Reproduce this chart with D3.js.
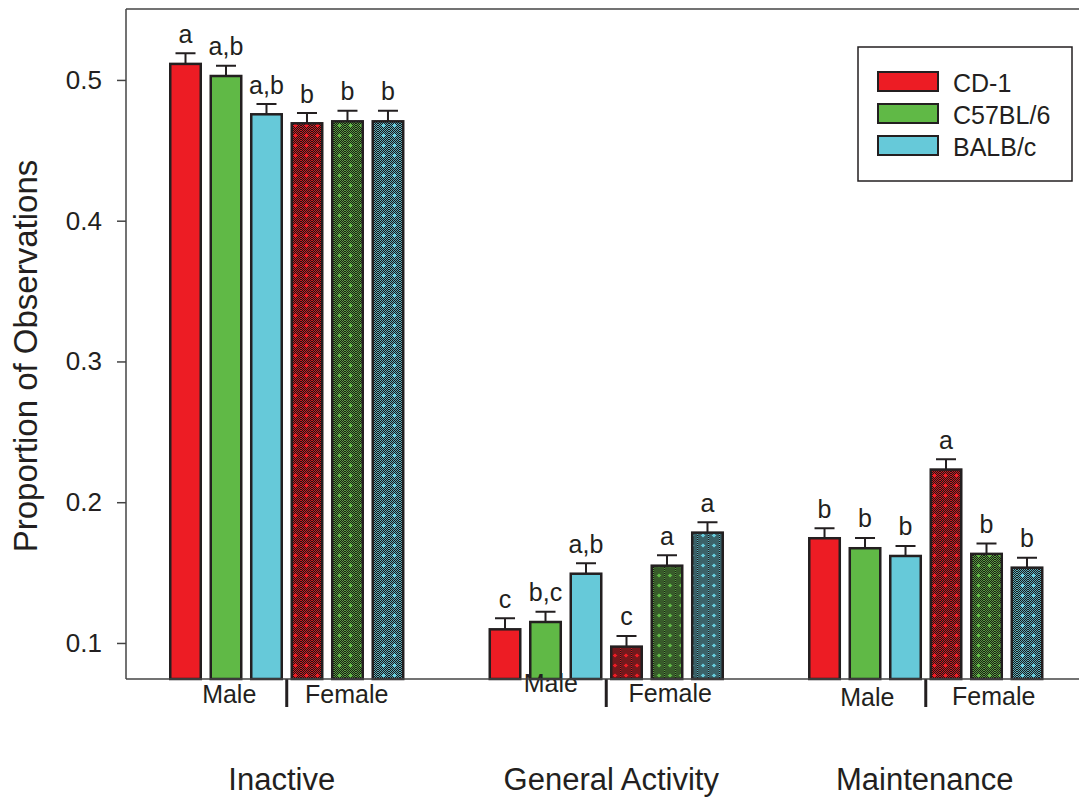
<!DOCTYPE html>
<html>
<head>
<meta charset="utf-8">
<script src="https://cdn.jsdelivr.net/npm/d3@7"></script>
<style>
  html, body { margin: 0; padding: 0; background: #fff; }
  svg { display: block; font-family: "Liberation Sans", Arial, Helvetica, sans-serif; }
</style>
</head>
<body>
<svg id="chart" width="1079" height="800"></svg>
<script>
'use strict';

// Chart values.
var groups = ['Inactive', 'General Activity', 'Maintenance'];
var strains = ['CD-1', 'C57BL/6', 'BALB/c'];
var sexes = ['Male', 'Female'];
var yTicks = [0.1, 0.2, 0.3, 0.4, 0.5];

// Bar order in each group: male CD-1, C57BL/6, BALB/c, then female.
var inactiveMeans = [0.5114, 0.5028, 0.4756, 0.4692, 0.4706, 0.4706];
var activityMeans = [0.1097, 0.1149, 0.1492, 0.0974, 0.1549, 0.1784];
var maintenanceMeans = [0.1744, 0.1673, 0.1618, 0.2232, 0.1633, 0.1535];

var inactiveErrors = [0.0076, 0.0073, 0.0073, 0.0073, 0.0075, 0.0075];
var activityErrors = [0.0078, 0.0073, 0.0074, 0.0076, 0.0074, 0.0074];
var maintenanceErrors = [0.0071, 0.0073, 0.0071, 0.0073, 0.0074, 0.0071];

var inactiveLetters = ['a', 'a,b', 'a,b', 'b', 'b', 'b'];
var activityLetters = ['c', 'b,c', 'a,b', 'c', 'a', 'a'];
var maintenanceLetters = ['b', 'b', 'b', 'a', 'b', 'b'];

var strainColors = ['#ed1c24', '#60b946', '#66c9d9'];

(function() {
  var svg = d3.select('#chart'),
      ink = '#231f20',
      axisInk = '#444',
      plot = { left: 126, top: 9, right: 1079, bottom: 679 },
      defs,
      x0,
      x1,
      y,
      yAxis,
      series,
      gGroups,
      legend;

  series = [
    { means: inactiveMeans, errors: inactiveErrors, letters: inactiveLetters },
    { means: activityMeans, errors: activityErrors, letters: activityLetters },
    { means: maintenanceMeans, errors: maintenanceErrors, letters: maintenanceLetters }
  ];

  // Bar keys: sex x strain, male first.
  var barKeys = [];
  sexes.forEach(function(sex, si) {
    strains.forEach(function(strain, ci) {
      barKeys.push({ sex: si, strain: ci, key: sex + '-' + strain });
    });
  });

  x0 = d3.scaleBand()
    .domain(groups)
    .range([169, 1043.5])
    .paddingInner(0.263)
    .paddingOuter(0);

  x1 = d3.scaleBand()
    .domain(barKeys.map(function(d) { return d.key; }))
    .range([0, x0.bandwidth()])
    .paddingInner(0.185)
    .paddingOuter(0);

  y = d3.scaleLinear()
    .domain([0.0744, 0.5504])
    .range([plot.bottom, plot.top]);

  /**
   * Female bars: dark ground, fine colour checker, and a grid of small plus marks.
   */
  defs = svg.append('defs');
  strainColors.forEach(function(color, i) {
    var p = defs.append('pattern')
      .attr('id', 'female-' + i)
      .attr('patternUnits', 'userSpaceOnUse')
      .attr('width', 11)
      .attr('height', 10);
    p.append('rect')
      .attr('width', 11)
      .attr('height', 10)
      .attr('fill', '#1a1616');
    var cells = [];
    for (var cx = 0; cx < 11; cx++) {
      for (var cy = 0; cy < 10; cy++) {
        if ((cx + cy) % 2 === 0) { cells.push([cx, cy]); }
      }
    }
    p.selectAll('rect.cell')
      .data(cells)
      .enter().append('rect')
      .attr('class', 'cell')
      .attr('x', function(d) { return d[0]; })
      .attr('y', function(d) { return d[1]; })
      .attr('width', 1)
      .attr('height', 1)
      .attr('fill', color)
      .attr('opacity', 0.85);
    p.append('rect').attr('x', 3).attr('y', 5).attr('width', 5).attr('height', 1).attr('fill', color);
    p.append('rect').attr('x', 5).attr('y', 3).attr('width', 1).attr('height', 5).attr('fill', color);
    p.append('rect').attr('x', 4).attr('y', 4).attr('width', 3).attr('height', 3).attr('fill', color);
  });

  // Frame: left axis, top rule and baseline.
  svg.append('line')
    .attr('x1', plot.left).attr('x2', plot.right)
    .attr('y1', plot.top).attr('y2', plot.top)
    .attr('stroke', axisInk).attr('stroke-width', 1.5);

  yAxis = svg.append('g')
    .attr('transform', 'translate(' + plot.left + ',0)')
    .call(d3.axisLeft(y)
      .tickValues(yTicks)
      .tickSize(9)
      .tickPadding(15)
      .tickFormat(d3.format('.1f')));
  yAxis.select('.domain').remove();
  yAxis.selectAll('.tick line').attr('stroke', axisInk).attr('stroke-width', 1.5);
  yAxis.selectAll('.tick text')
    .attr('fill', ink)
    .style('font-size', '26px')
    .style('font-family', '"Liberation Sans", Arial, sans-serif');

  svg.append('line')
    .attr('x1', plot.left).attr('x2', plot.left)
    .attr('y1', plot.top).attr('y2', plot.bottom)
    .attr('stroke', axisInk).attr('stroke-width', 1.5);

  svg.append('text')
    .attr('transform', 'translate(37,356) rotate(-90)')
    .attr('text-anchor', 'middle')
    .attr('fill', ink)
    .style('font-size', '33px')
    .text('Proportion of Observations');

  // Bars, error bars and letters.
  gGroups = svg.selectAll('g.group')
    .data(groups)
    .enter().append('g')
    .attr('class', 'group')
    .attr('transform', function(g) { return 'translate(' + x0(g) + ',0)'; });

  gGroups.each(function(g, gi) {
    var sel = d3.select(this),
        s = series[gi],
        bw = x1.bandwidth(),
        sw = 2.5,
        bars = barKeys.map(function(k, i) {
          return {
            key: k.key,
            sex: k.sex,
            strain: k.strain,
            mean: s.means[i],
            err: s.errors[i],
            letter: s.letters[i]
          };
        });

    // Error bars first, so the bar outline sits over their foot.
    sel.selectAll('path.err')
      .data(bars)
      .enter().append('path')
      .attr('class', 'err')
      .attr('d', function(d) {
        var cx = x1(d.key) + bw / 2,
            top = y(d.mean + d.err);
        return 'M' + cx + ',' + y(d.mean) + 'V' + top +
          'M' + (cx - 10) + ',' + top + 'H' + (cx + 10);
      })
      .attr('fill', 'none')
      .attr('stroke', ink)
      .attr('stroke-width', 2);

    sel.selectAll('rect.bar')
      .data(bars)
      .enter().append('rect')
      .attr('class', 'bar')
      .attr('x', function(d) { return x1(d.key) + sw / 2; })
      .attr('width', bw - sw)
      .attr('y', function(d) { return y(d.mean); })
      .attr('height', function(d) { return plot.bottom - y(d.mean); })
      .attr('fill', function(d) {
        return d.sex === 0 ? strainColors[d.strain] : 'url(#female-' + d.strain + ')';
      })
      .attr('stroke', ink)
      .attr('stroke-width', sw);

    sel.selectAll('text.letter')
      .data(bars)
      .enter().append('text')
      .attr('class', 'letter')
      .attr('x', function(d) { return x1(d.key) + bw / 2; })
      .attr('y', function(d) { return y(d.mean + d.err) - 10.5; })
      .attr('text-anchor', 'middle')
      .attr('fill', ink)
      .style('font-size', '25px')
      .text(function(d) { return d.letter; });
  });

  // Baseline over the bar feet.
  svg.append('line')
    .attr('x1', plot.left).attr('x2', plot.right)
    .attr('y1', plot.bottom).attr('y2', plot.bottom)
    .attr('stroke', axisInk).attr('stroke-width', 1.5);

  // Sex labels, split mark and group names under the axis.
  var sexOffsets = [[-57.5, 60], [-55.5, 64], [-58.5, 68]],
      sexBaselines = [[703, 703], [692, 702], [706, 705]];

  gGroups.each(function(g, gi) {
    var sel = d3.select(this),
        mid = x0.bandwidth() / 2;

    sel.append('line')
      .attr('x1', mid).attr('x2', mid)
      .attr('y1', plot.bottom).attr('y2', 707)
      .attr('stroke', ink)
      .attr('stroke-width', 3);

    sel.selectAll('text.sex')
      .data(sexes)
      .enter().append('text')
      .attr('class', 'sex')
      .attr('x', function(d, i) { return mid + sexOffsets[gi][i]; })
      .attr('y', function(d, i) { return sexBaselines[gi][i]; })
      .attr('text-anchor', 'middle')
      .attr('fill', ink)
      .style('font-size', '25px')
      .text(function(d) { return d; });

    sel.append('text')
      .attr('x', mid + [-5, 5, -1][gi])
      .attr('y', 790)
      .attr('text-anchor', 'middle')
      .attr('fill', ink)
      .style('font-size', '31px')
      .text(g);
  });

  // Legend
  legend = svg.append('g').attr('transform', 'translate(858,47)');
  legend.append('rect')
    .attr('width', 214)
    .attr('height', 134)
    .attr('fill', '#fff')
    .attr('stroke', ink)
    .attr('stroke-width', 1.5);

  var items = legend.selectAll('g.item')
    .data(strains)
    .enter().append('g')
    .attr('class', 'item')
    .attr('transform', function(d, i) { return 'translate(0,' + (25 + i * 32) + ')'; });
  items.append('rect')
    .attr('x', 20)
    .attr('width', 60)
    .attr('height', 19)
    .attr('fill', function(d, i) { return strainColors[i]; })
    .attr('stroke', ink)
    .attr('stroke-width', 2);
  items.append('text')
    .attr('x', 95)
    .attr('y', 20)
    .attr('fill', ink)
    .style('font-size', '25px')
    .text(function(d) { return d; });
})();
</script>
</body>
</html>
